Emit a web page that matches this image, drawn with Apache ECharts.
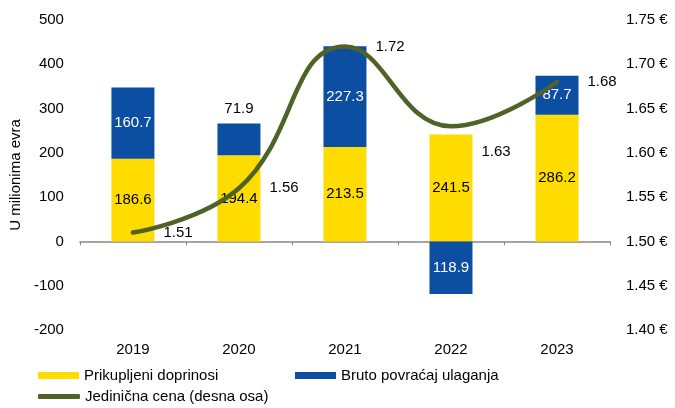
<!DOCTYPE html>
<html><head><meta charset="utf-8">
<script src="https://cdn.jsdelivr.net/npm/echarts@6/dist/echarts.min.js"></script>
<style>html,body{margin:0;padding:0;background:#fff}#c{width:675px;height:408px}</style>
</head><body><div id="c"></div>
<script>
var categories = ['2019','2020','2021','2022','2023'];
var contributions = [186.6, 194.4, 213.5, 241.5, 286.2];
var returns = [160.7, 71.9, 227.3, -118.9, 87.7];
var unitPrice = [1.51, 1.56, 1.72, 1.63, 1.68];
var leftTicks = {min: -200, max: 500, interval: 100};
var rightTicks = {min: 1.40, max: 1.75, interval: 0.05};

var FONT = 'Liberation Sans, Arial, sans-serif';
var FS = 15;
var GREEN = '#4F6228';
var chart = echarts.init(document.getElementById('c'));
chart.setOption({
  animation: false,
  textStyle: {fontFamily: FONT},
  grid: {left: 75, right: 65, top: 20, bottom: 78},
  xAxis: [{
    type: 'category', data: categories, position: 'bottom',
    axisLine: {show: false, onZero: false}, axisTick: {show: false},
    axisLabel: {color: '#000', fontSize: FS, margin: 12, fontFamily: FONT}
  }, {
    type: 'category', data: categories, position: 'bottom',
    axisLine: {show: true, onZero: true, onZeroAxisIndex: 0, lineStyle: {color: '#888', width: 1.5}},
    axisTick: {show: true, length: 4, lineStyle: {color: '#888'}},
    axisLabel: {show: false}
  }],
  yAxis: [{
    type: 'value', min: leftTicks.min, max: leftTicks.max, interval: leftTicks.interval,
    name: 'U milionima evra', nameLocation: 'middle', nameGap: 52, nameRotate: 90,
    nameTextStyle: {color: '#000', fontSize: FS, fontFamily: FONT},
    axisLine: {show: false}, axisTick: {show: false}, splitLine: {show: false},
    axisLabel: {color: '#000', fontSize: FS, margin: 16, fontFamily: FONT}
  }, {
    type: 'value', min: rightTicks.min, max: rightTicks.max, interval: rightTicks.interval,
    axisLine: {show: false}, axisTick: {show: false}, splitLine: {show: false},
    axisLabel: {color: '#000', fontSize: FS, margin: 16, fontFamily: FONT,
      formatter: function(v){ return v.toFixed(2) + ' €'; }}
  }],
  legend: [{
    data: ['Prikupljeni doprinosi'], left: 33, top: 363, itemWidth: 41, itemHeight: 7,
    icon: 'rect', textStyle: {color: '#000', fontSize: FS, fontFamily: FONT}
  }, {
    data: ['Bruto povraćaj ulaganja'], left: 290, top: 363, itemWidth: 41, itemHeight: 7,
    icon: 'rect', textStyle: {color: '#000', fontSize: FS, fontFamily: FONT}
  }, {
    data: ['Jedinična cena (desna osa)'], left: 33, top: 384, itemWidth: 42, itemHeight: 5,
    icon: 'roundRect', itemStyle: {color: GREEN, opacity: 1},
    textStyle: {color: '#000', fontSize: FS, fontFamily: FONT}
  }],
  series: [{
    name: 'Prikupljeni doprinosi', type: 'bar', stack: 's', barWidth: 43,
    data: contributions, itemStyle: {color: '#FFDC00'},
    label: {show: true, position: 'inside', color: '#000', fontSize: FS, fontFamily: FONT}
  }, {
    name: 'Bruto povraćaj ulaganja', type: 'bar', stack: 's', barWidth: 43,
    data: returns.map(function(v, i){
      if (i === 1) return {value: v, label: {position: 'top', color: '#000', distance: 7}};
      return v;
    }),
    itemStyle: {color: '#0B4EA2'},
    label: {show: true, position: 'inside', color: '#fff', fontSize: FS, fontFamily: FONT,
      formatter: function(p){ return Math.abs(p.value).toFixed(1); }}
  }, {
    name: 'Jedinična cena (desna osa)', type: 'line', yAxisIndex: 1, smooth: 0.45,
    symbol: 'circle', symbolSize: 1, showSymbol: true, z: 5,
    data: unitPrice.map(function(v, i){
      if (i === 3) return {value: v, label: {offset: [0, 26]}};
      return v;
    }),
    lineStyle: {color: GREEN, width: 4.5, cap: 'round'},
    itemStyle: {color: 'rgba(0,0,0,0)'},
    label: {show: true, position: 'right', distance: 30, color: '#000', fontSize: FS, fontFamily: FONT,
      formatter: function(p){ return p.value.toFixed(2); }}
  }]
});
</script></body></html>
